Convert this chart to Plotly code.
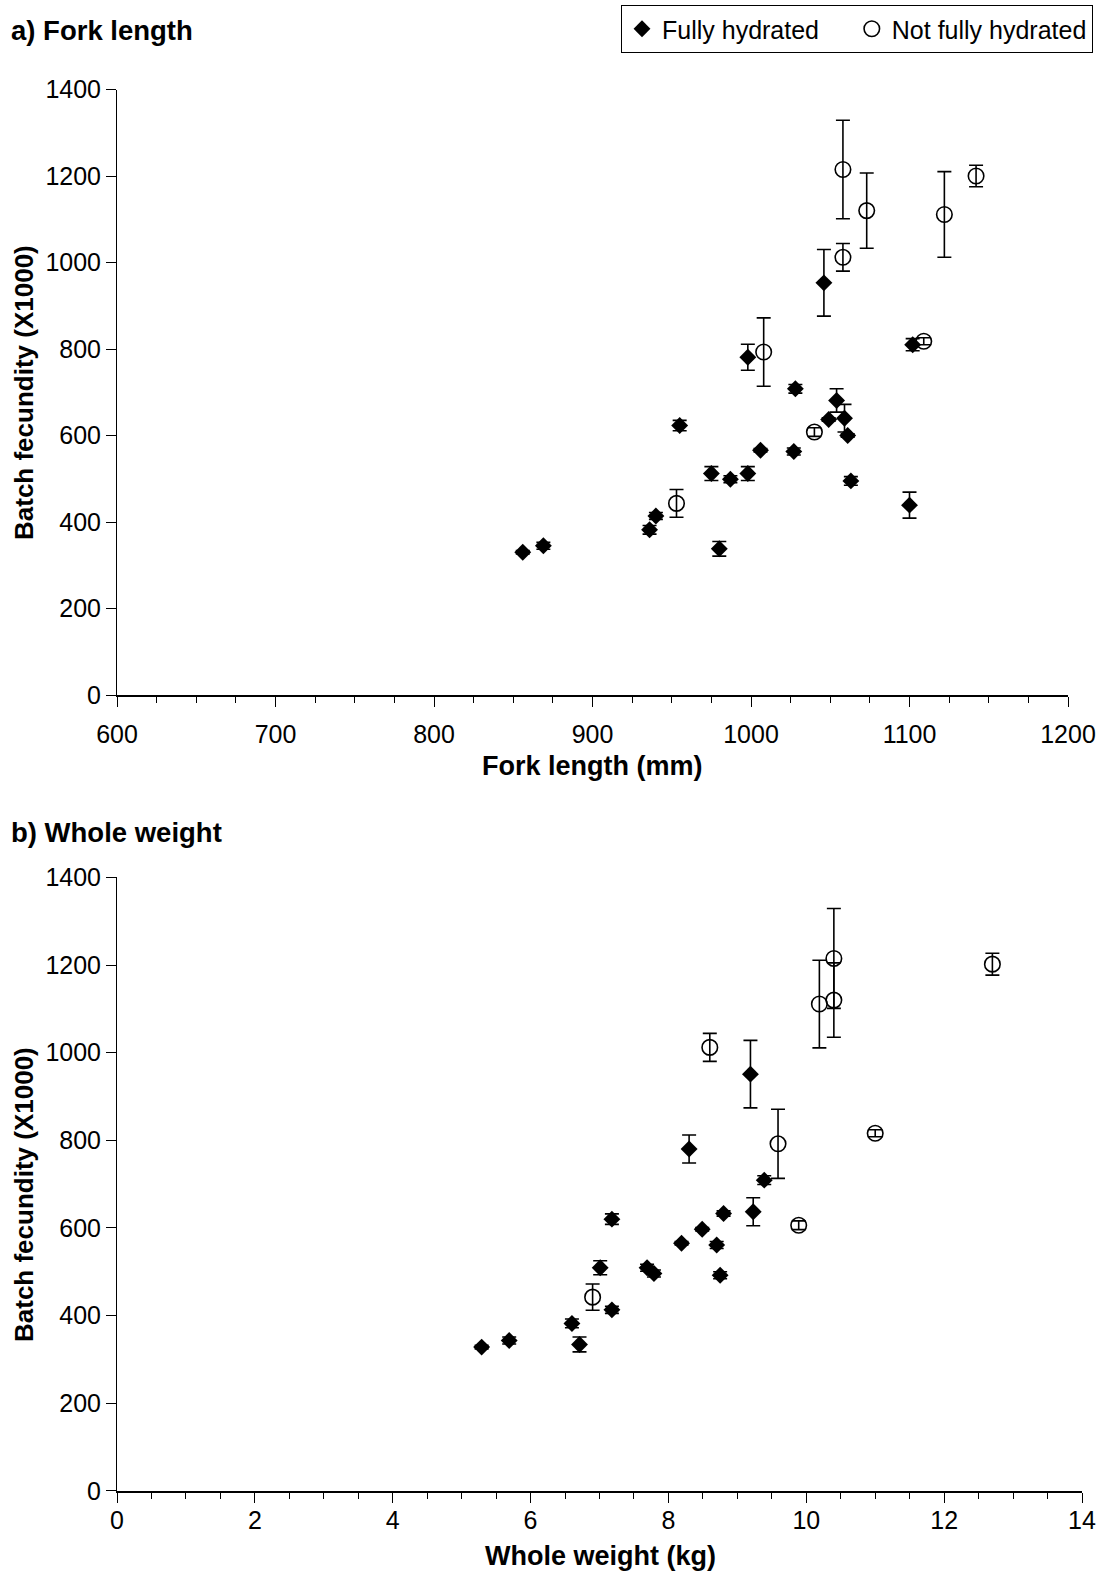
import plotly.graph_objects as go

# ---- Panel a: fork length (mm) ----
fl_full_x = [856, 869, 936, 940, 955, 975, 980, 987, 998, 998, 1006, 1027, 1028, 1049, 1046, 1054, 1059, 1061, 1063, 1100, 1102]
fl_full_y = [330, 345, 382, 414, 623, 512, 338, 499, 512, 781, 566, 563, 708, 637, 953, 681, 640, 600, 495, 439, 810]
fl_full_err = [4, 8, 10, 8, 12, 16, 17, 8, 16, 30, 4, 8, 10, 4, 77, 27, 32, 4, 10, 30, 14]

fl_nf_x = [953, 1008, 1040, 1058, 1058, 1073, 1109, 1122, 1142]
fl_nf_y = [443, 793, 608, 1012, 1215, 1120, 818, 1111, 1200]
fl_nf_err = [32, 79, 10, 32, 114, 87, 8, 99, 25]

# ---- Panel b: whole weight (kg) ----
ww_full_x = [5.29, 5.69, 6.60, 6.71, 7.01, 7.18, 7.18, 7.69, 7.79, 8.19, 8.49, 8.70, 8.75, 8.80, 9.23, 9.39, 8.30, 9.19]
ww_full_y = [328, 343, 382, 334, 509, 413, 620, 509, 496, 565, 597, 561, 492, 633, 637, 709, 780, 951]
ww_full_err = [4, 8, 10, 17, 16, 8, 12, 8, 8, 4, 4, 8, 8, 6, 32, 10, 32, 77]

ww_nf_x = [6.90, 8.60, 9.59, 9.89, 10.19, 10.40, 10.40, 11.00, 12.70]
ww_nf_y = [442, 1012, 792, 606, 1111, 1215, 1120, 816, 1202]
ww_nf_err = [30, 32, 79, 10, 100, 114, 85, 8, 25]

FONT = "Liberation Sans, Arial, Helvetica, sans-serif"
W, H = 1104, 1580

fig = go.Figure()

def add_series(x, y, err, xa, ya, filled, name, show):
    fig.add_trace(go.Scatter(
        x=x, y=y, mode="markers", name=name, showlegend=show,
        xaxis=xa, yaxis=ya,
        marker=dict(symbol="diamond" if filled else "circle-open",
                    size=13 if filled else 15.5, color="black",
                    line=dict(color="black", width=1.6 if not filled else 0)),
        error_y=dict(type="data", array=err, visible=True, color="black",
                     thickness=1.6, width=7),
    ))

add_series(fl_full_x, fl_full_y, fl_full_err, "x", "y", True, "Fully hydrated\u00a0\u00a0\u00a0\u00a0", True)
add_series(fl_nf_x, fl_nf_y, fl_nf_err, "x", "y", False, "Not fully hydrated", True)
add_series(ww_full_x, ww_full_y, ww_full_err, "x2", "y2", True, "Fully hydrated", False)
add_series(ww_nf_x, ww_nf_y, ww_nf_err, "x2", "y2", False, "Not fully hydrated", False)

def px_x(p):
    return p / W

def px_y(p):
    return 1 - p / H

common_x = dict(showline=True, linecolor="black", linewidth=1.8, ticks="outside",
                ticklen=10, tickwidth=1.3, tickcolor="black", showgrid=False,
                zeroline=False, tickfont=dict(size=25, color="black"),
                automargin=False)
common_y = dict(showline=True, linecolor="black", linewidth=1, ticks="outside",
                ticklen=10, tickwidth=1.3, tickcolor="black", showgrid=False,
                zeroline=False, tickfont=dict(size=25, color="black"),
                range=[0, 1400], dtick=200, automargin=False)

A_L, A_R, A_T, A_B = 117, 1068, 89.5, 695
B_L, B_R, B_T, B_B = 117, 1082, 877.4, 1490.8

fig.update_layout(
    width=W, height=H,
    margin=dict(l=0, r=0, t=0, b=0),
    paper_bgcolor="white", plot_bgcolor="white",
    font=dict(family=FONT, color="black"),
    xaxis=dict(common_x, domain=[px_x(A_L), px_x(A_R)], range=[600, 1200], dtick=100,
               minor=dict(dtick=25, ticks="outside", ticklen=6, tickcolor="black", tickwidth=1),
               ticklabelstandoff=6, anchor="y"),
    yaxis=dict(common_y, domain=[px_y(A_B), px_y(A_T)], anchor="x"),
    xaxis2=dict(common_x, domain=[px_x(B_L), px_x(B_R)], range=[0, 14], dtick=2,
                minor=dict(dtick=0.5, ticks="outside", ticklen=6, tickcolor="black", tickwidth=1),
                ticklabelstandoff=-4, anchor="y2"),
    yaxis2=dict(common_y, domain=[px_y(B_B), px_y(B_T)], anchor="x2"),
    legend=dict(orientation="h", x=px_x(1093), xanchor="right", y=px_y(5), yanchor="top",
                bordercolor="black", borderwidth=1, bgcolor="white",
                font=dict(size=25, color="black"), itemwidth=30, tracegroupgap=0),
)

def note(text, x, y, size, angle=0, xanchor="center"):
    fig.add_annotation(text=text, x=px_x(x), y=px_y(y), xref="paper", yref="paper",
                       xanchor=xanchor, yanchor="middle", showarrow=False, textangle=angle,
                       font=dict(size=size, color="black", family=FONT))

note("<b>a) Fork length</b>", 9, 31, 27.5, xanchor="left")
note("<b>b) Whole weight</b>", 9, 832, 27.5, xanchor="left")
note("<b>Fork length (mm)</b>", (A_L + A_R) / 2, 766, 27)
note("<b>Whole weight (kg)</b>", (B_L + B_R) / 2 + 1, 1556, 27)
note("<b>Batch fecundity (X1000)</b>", 24, 393, 26, angle=-90)
note("<b>Batch fecundity (X1000)</b>", 24, 1195, 26, angle=-90)

fig.write_html("out.html")
